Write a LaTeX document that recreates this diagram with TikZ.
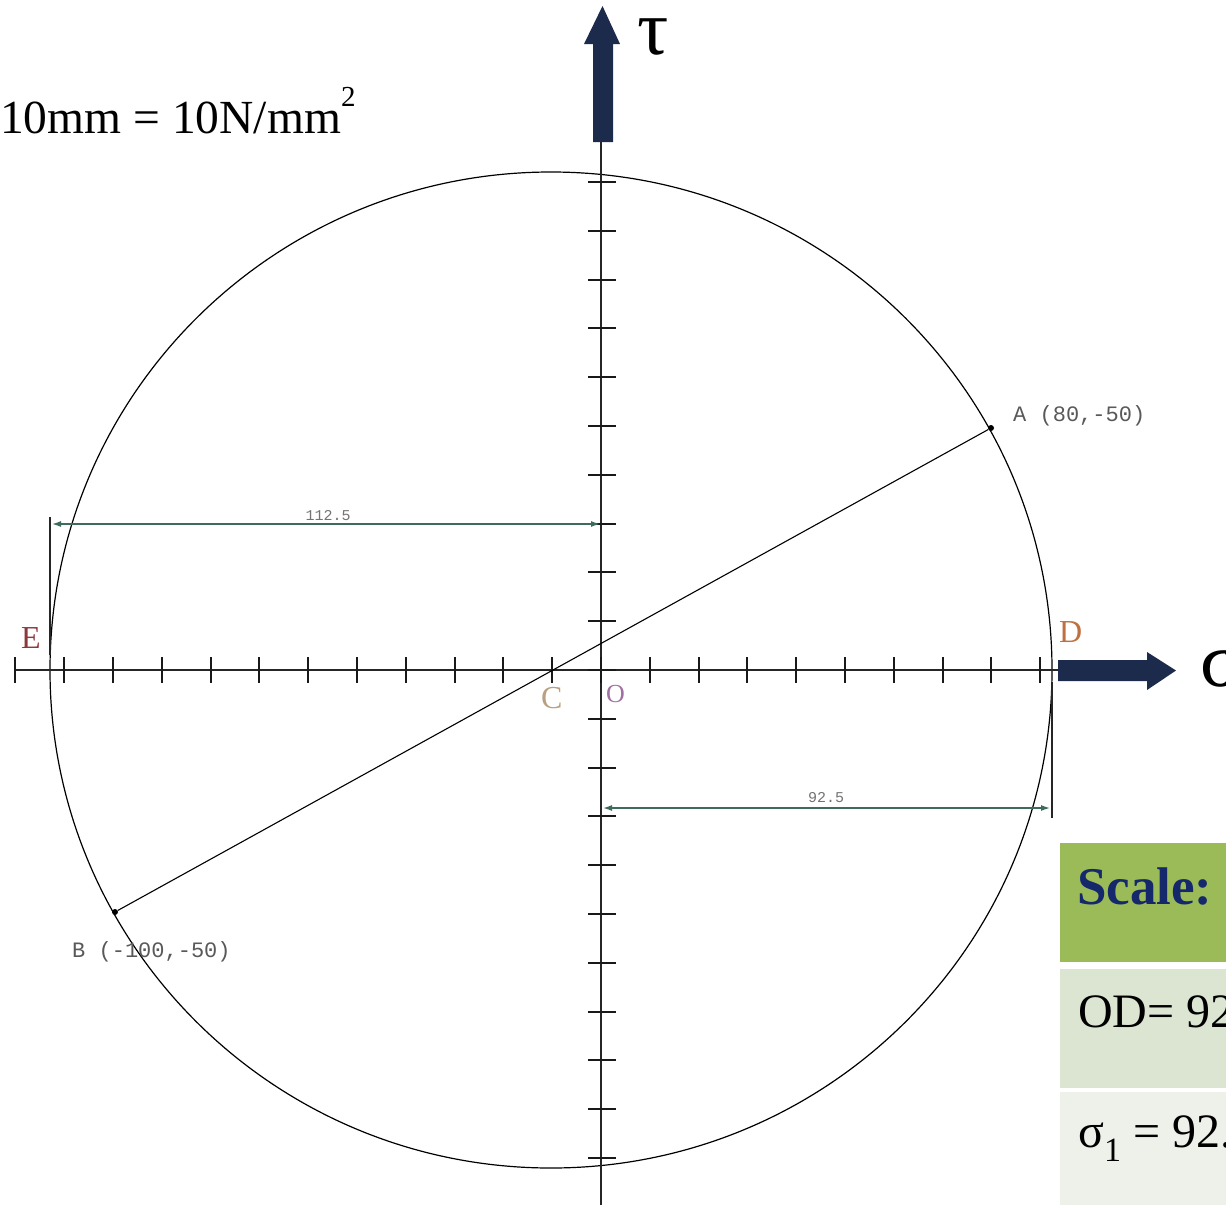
\documentclass[tikz,border=0pt]{standalone}
\usepackage{fontspec}
\setmainfont{Liberation Serif}
\newfontfamily\monof{Liberation Mono}
\usetikzlibrary{arrows.meta}
\definecolor{navyarrow}{HTML}{1C2B4C}
\definecolor{dimcol}{HTML}{3D6B5E}
\definecolor{hdrgreen}{HTML}{9BBB59}
\definecolor{rowtwo}{HTML}{DCE5D2}
\definecolor{rowthree}{HTML}{EEF1EA}
\definecolor{scalenavy}{HTML}{14286B}
\definecolor{ecol}{HTML}{8B3A3A}
\definecolor{dcol}{HTML}{C0703E}
\definecolor{ccol}{HTML}{B8A080}
\definecolor{ocol}{HTML}{A070A0}
\tikzset{
  axisline/.style={line width=1.8pt, black!85},
  tickmark/.style={line width=2pt, black!90},
  dimline/.style={line width=1.4pt, dimcol, {Latex[length=9pt,width=6pt]}-{Latex[length=9pt,width=6pt]}},
  extline/.style={line width=2.4pt, black!85},
  ptlabel/.style={font=\monof\fontsize{22}{22}\selectfont, text=black!65, inner sep=0pt},
  dimlabel/.style={font=\monof\fontsize{15}{15}\selectfont, text=black!55, inner sep=0pt},
  letterlabel/.style={font=\fontsize{32}{32}\selectfont, inner sep=0pt},
  tabtext/.style={font=\fontsize{48}{48}\selectfont, inner sep=0pt, anchor=base west},
}
\begin{document}
\begin{tikzpicture}[x=1pt,y=-1pt]
\useasboundingbox (0,0) rectangle (1226,1205);
\clip (0,0) rectangle (1226,1205);
\fill[white] (0,0) rectangle (1226,1205);

% key points
\coordinate (O) at (601,670);
\coordinate (Cc) at (551,670);
\coordinate (hstart) at (16,670);
\coordinate (hend) at (1058,670);
\coordinate (vtop) at (601,140);
\coordinate (vbot) at (601,1205);

% circle
\draw[line width=1.2pt] (Cc) ellipse [x radius=501, y radius=498];

% axes
\draw[axisline] (hstart) -- (hend);
\draw[axisline] (vtop) -- (vbot);
\foreach \i in {-12,...,9} \draw[tickmark] ({601+\i*48.8},657) -- ++(0,26);
\foreach \i in {-10,...,10} \draw[tickmark] (588,{670+\i*48.8}) -- ++(28,0);

% thick navy arrows
\fill[navyarrow] (1058,660) -- (1147,660) -- (1147,652) -- (1176,670.5) -- (1147,690) -- (1147,681) -- (1058,681) -- cycle;
\fill[navyarrow] (593,142) -- (593,44) -- (584,44) -- (602.5,6) -- (620,44) -- (613,44) -- (613,142) -- cycle;

\node[font=\fontsize{78}{78}\selectfont, inner sep=0pt, anchor=base west] (tau) at (637,54) {τ};
\node[font=\fontsize{78}{78}\selectfont, inner sep=0pt, anchor=base west] (sigma) at (1200,686) {σ};

% scale text
\node[font=\fontsize{47.5}{47.5}\selectfont, inner sep=0pt, anchor=base west] (scaletxt) at (0,133) {10mm = 10N/mm\raisebox{0.55em}{\fontsize{29}{29}\selectfont 2}};

% points A and B
\node[circle, fill=black, inner sep=0pt, minimum size=6pt] (A) at (991,428) {};
\node[circle, fill=black, inner sep=0pt, minimum size=6pt] (B) at (115,912) {};
\draw[line width=1.1pt] (A) -- (B);
\node[ptlabel, anchor=base west] (Alab) at (1013,421) {A (80,-50)};
\node[ptlabel, anchor=base west] (Blab) at (72,957) {B (-100,-50)};

% dimension lines
\coordinate (e1) at (50,517); \coordinate (e2) at (50,655);
\draw[extline] (e1) -- (e2);
\coordinate (d1) at (52,524); \coordinate (d2) at (600,524);
\draw[dimline] (d1) -- (d2);
\node[dimlabel, anchor=base] (dl1) at (328,520) {112.5};
\coordinate (f1) at (1052,682); \coordinate (f2) at (1052,818);
\draw[extline] (f1) -- (f2);
\coordinate (g1) at (603,808); \coordinate (g2) at (1050,808);
\draw[dimline] (g1) -- (g2);
\node[dimlabel, anchor=base] (dl2) at (826,802) {92.5};

% letter labels
\node[letterlabel, text=ecol, anchor=base west] (E) at (21,648) {E};
\node[letterlabel, text=dcol, anchor=base west] (D) at (1059,642) {D};
\node[letterlabel, text=ccol, anchor=base west] (C) at (541,708) {C};
\node[letterlabel, text=ocol, anchor=base west, font=\fontsize{26}{26}\selectfont] (Olab) at (606,702) {O};

% table
\fill[hdrgreen] (1060,843) rectangle (1226,962);
\fill[rowtwo] (1060,969) rectangle (1226,1088);
\fill[rowthree] (1060,1092) rectangle (1226,1205);
\node[tabtext, font=\bfseries\fontsize{53}{53}\selectfont, text=scalenavy] (sc) at (1077,904) {Scale:};
\node[tabtext] (od) at (1078,1027) {OD= 92.5 mm};
\node[tabtext] (s1) at (1078,1147) {σ\raisebox{-0.3em}{\fontsize{34}{34}\selectfont 1} = 92.5 N/mm\textsuperscript{2}};
\end{tikzpicture}
\end{document}
